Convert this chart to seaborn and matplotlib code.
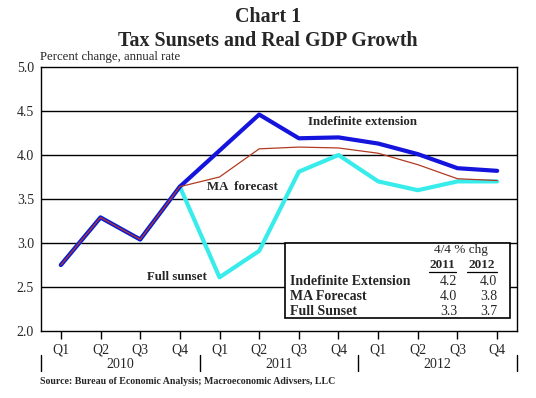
import pandas as pd
import matplotlib.pyplot as plt
import seaborn as sns
from matplotlib.patches import Rectangle
from matplotlib.lines import Line2D
from matplotlib.transforms import blended_transform_factory

# --- Data ---
quarters = ["Q1", "Q2", "Q3", "Q4"] * 3
years = ["2010", "2011", "2012"]
indefinite = [2.75, 3.29, 3.04, 3.64, 4.05, 4.46, 4.19, 4.20, 4.13, 4.01, 3.85, 3.82]
ma_forecast = [2.75, 3.29, 3.04, 3.64, 3.75, 4.07, 4.09, 4.08, 4.02, 3.89, 3.73, 3.71]
full_sunset = [2.75, 3.29, 3.04, 3.64, 2.61, 2.91, 3.81, 4.00, 3.70, 3.60, 3.70, 3.70]
table_rows = ["Indefinite Extension", "MA Forecast", "Full Sunset"]
table_2011 = ["4.2", "4.0", "3.3"]
table_2012 = ["4.0", "3.8", "3.7"]

df = pd.DataFrame({
    "idx": list(range(12)) * 3,
    "value": indefinite + ma_forecast + full_sunset,
    "series": ["Indefinite"] * 12 + ["MA"] * 12 + ["Sunset"] * 12,
})

sns.set_theme(style="white")
plt.rcParams["font.family"] = ["Liberation Serif", "DejaVu Serif"]

fig = plt.figure(figsize=(5.36, 3.98), dpi=100)
ax = fig.add_axes([41 / 536, 1 - 331 / 398, 476 / 536, 264 / 398])

# gridlines
for g in [2.5, 3.0, 3.5, 4.0, 4.5]:
    ax.axhline(g, color="black", lw=1.0, zorder=1)

sns.lineplot(data=df[df.series == "Sunset"], x="idx", y="value", color="#38ecec",
             lw=3.0, ax=ax, zorder=3)
sns.lineplot(data=df[df.series == "Indefinite"], x="idx", y="value", color="#1414dc",
             lw=3.0, ax=ax, zorder=4)
sns.lineplot(data=df[df.series == "MA"], x="idx", y="value", color="#b23a22",
             lw=0.9, ax=ax, zorder=5)

ax.set_xlim(-0.5, 11.5)
ax.set_ylim(2.0, 5.0)
ax.set_yticks([2.0, 2.5, 3.0, 3.5, 4.0, 4.5, 5.0])
ax.set_yticklabels([f"{v:.1f}" for v in [2.0, 2.5, 3.0, 3.5, 4.0, 4.5, 5.0]], fontsize=10)
ax.set_xticks(range(12))
ax.set_xticklabels(quarters, fontsize=10)
ax.tick_params(axis="x", direction="out", length=6, width=1, color="black", pad=3, bottom=True)
ax.tick_params(axis="y", length=0, pad=5)
ax.set_xlabel("")
ax.set_ylabel("")
for s in ax.spines.values():
    s.set_color("black")
    s.set_linewidth(1.0)

# year labels and separators
trans = blended_transform_factory(ax.transData, ax.transAxes)
for i, yr in enumerate(years):
    ax.text(1.5 + 4 * i, -0.128, yr, transform=trans, ha="center", va="center", fontsize=10)
for xs in [-0.5, 3.5, 7.5, 11.5]:
    ax.add_line(Line2D([xs, xs], [-0.09, -0.152], transform=trans, color="black",
                       lw=1.0, clip_on=False))

# series labels
ax.text(6.24, 4.375, "Indefinite extension", fontsize=9.3, fontweight="bold", va="center", zorder=6)
ax.text(3.69, 3.64, "MA  forecast", fontsize=9.3, fontweight="bold", va="center", zorder=6)
ax.text(2.17, 2.61, "Full sunset", fontsize=9.3, fontweight="bold", va="center", zorder=6)

# table box
ax.add_patch(Rectangle((0.513, 0.049), 0.472, 0.284, transform=ax.transAxes,
                       facecolor="white", edgecolor="black", lw=1.2, zorder=7))
ax.text(0.882, 0.306, "4/4 % chg", transform=ax.transAxes, ha="center", va="center",
        fontsize=9.5, zorder=8)
ax.text(0.843, 0.250, "2011", transform=ax.transAxes, ha="center", va="center",
        fontsize=9.5, fontweight="bold", zorder=8)
ax.text(0.926, 0.250, "2012", transform=ax.transAxes, ha="center", va="center",
        fontsize=9.5, fontweight="bold", zorder=8)
for x0, x1 in [(0.815, 0.872), (0.895, 0.958)]:
    ax.add_line(Line2D([x0, x1], [0.224, 0.224], transform=ax.transAxes, color="black",
                       lw=0.9, zorder=8))
for label, v1, v2, yy in zip(table_rows, table_2011, table_2012, [0.188, 0.130, 0.074]):
    ax.text(0.523, yy, label, transform=ax.transAxes, va="center", fontsize=10,
            fontweight="bold", zorder=8)
    ax.text(0.874, yy, v1, transform=ax.transAxes, va="center", ha="right", fontsize=10, zorder=8)
    ax.text(0.958, yy, v2, transform=ax.transAxes, va="center", ha="right", fontsize=10, zorder=8)

# titles and notes
fig.text(0.5, 1 - 17 / 398, "Chart 1", ha="center", va="center", fontsize=14.4, fontweight="bold")
fig.text(0.5, 1 - 41 / 398, "Tax Sunsets and Real GDP Growth", ha="center", va="center",
         fontsize=14.4, fontweight="bold")
fig.text(40 / 536, 1 - 57 / 398, "Percent change, annual rate", ha="left", va="center", fontsize=9.2)
fig.text(40 / 536, 1 - 381 / 398, "Source: Bureau of Economic Analysis; Macroeconomic Adivsers, LLC",
         ha="left", va="center", fontsize=7.1, fontweight="bold")

fig.savefig("out.png", dpi=100)
